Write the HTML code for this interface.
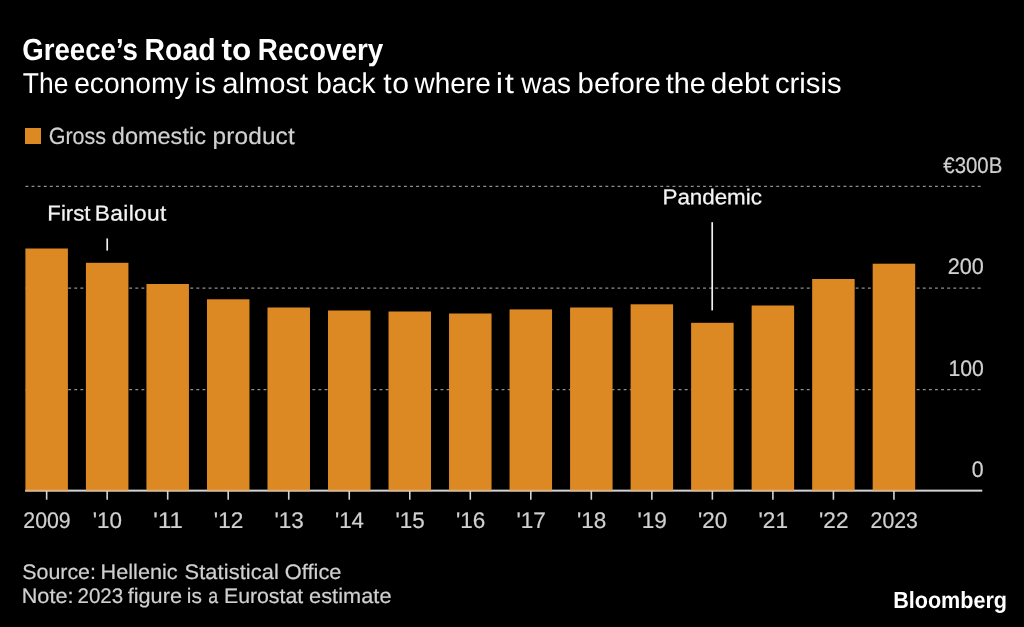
<!DOCTYPE html>
<html lang="en">
<head>
<meta charset="utf-8">
<title>Greece’s Road to Recovery</title>
<style>
html,body{margin:0;padding:0;background:#000;}
body{width:1024px;height:627px;overflow:hidden;position:relative;font-family:'Liberation Sans', sans-serif;}
svg{position:absolute;left:0;top:0;display:block;}
text{font-family:'Liberation Sans', sans-serif;text-rendering:geometricPrecision;}
.t{fill:#fff;font-weight:bold;}
.s{fill:#fff;}
.l{fill:#d0d0d0;stroke:#d0d0d0;stroke-width:0.2px;}
.a{fill:#f4f4f4;stroke:#f4f4f4;stroke-width:0.25px;}
.f{fill:#d0d0d0;stroke:#d0d0d0;stroke-width:0.2px;}
.b{fill:#fff;font-weight:bold;}
</style>
</head>
<body>
<svg width="1024" height="627" viewBox="0 0 1024 627">
<rect x="0" y="0" width="1024" height="627" fill="#000"/>
<text class="t" y="60" font-size="30.5"><tspan x="22.28" textLength="115.65" lengthAdjust="spacingAndGlyphs">Greece’s</tspan> <tspan x="144.60" textLength="70.86" lengthAdjust="spacingAndGlyphs">Road</tspan> <tspan x="221.42" letter-spacing="0.085" textLength="29.90" lengthAdjust="spacingAndGlyphs">to</tspan> <tspan x="257.84" textLength="125.41" lengthAdjust="spacingAndGlyphs">Recovery</tspan></text>
<text class="s" y="93" font-size="28.7"><tspan x="22.81" textLength="45.57" lengthAdjust="spacingAndGlyphs">The</tspan> <tspan x="74.20" textLength="114.35" lengthAdjust="spacingAndGlyphs">economy</tspan> <tspan x="194.52" letter-spacing="0.052" textLength="21.51" lengthAdjust="spacingAndGlyphs">is</tspan> <tspan x="222.26" textLength="85.95" lengthAdjust="spacingAndGlyphs">almost</tspan> <tspan x="316.19" textLength="59.27" lengthAdjust="spacingAndGlyphs">back</tspan> <tspan x="383.29" letter-spacing="0.567" textLength="26.37" lengthAdjust="spacingAndGlyphs">to</tspan> <tspan x="414.54" textLength="76.20" lengthAdjust="spacingAndGlyphs">where</tspan> <tspan x="495.80" letter-spacing="1.518" textLength="19.93" lengthAdjust="spacingAndGlyphs">it</tspan> <tspan x="521.29" textLength="49.72" lengthAdjust="spacingAndGlyphs">was</tspan> <tspan x="577.61" textLength="83.19" lengthAdjust="spacingAndGlyphs">before</tspan> <tspan x="665.81" textLength="39.96" lengthAdjust="spacingAndGlyphs">the</tspan> <tspan x="710.75" letter-spacing="0.119" textLength="58.34" lengthAdjust="spacingAndGlyphs">debt</tspan> <tspan x="775.01" textLength="66.55" lengthAdjust="spacingAndGlyphs">crisis</tspan></text>
<rect x="25" y="128" width="16" height="16" fill="#dc8924"/>
<text class="l" y="144" font-size="23.5"><tspan x="48.72" textLength="57.36" lengthAdjust="spacingAndGlyphs">Gross</tspan> <tspan x="111.81" textLength="94.11" lengthAdjust="spacingAndGlyphs">domestic</tspan> <tspan x="212.63" letter-spacing="0.115" textLength="82.17" lengthAdjust="spacingAndGlyphs">product</tspan></text>
<line x1="25.45" y1="186.3" x2="981.8" y2="186.3" stroke="#909090" stroke-width="1.25" stroke-dasharray="2.9 3.2044"/>
<line x1="25.45" y1="288.0" x2="981.8" y2="288.0" stroke="#909090" stroke-width="1.25" stroke-dasharray="2.9 3.2044"/>
<line x1="25.45" y1="389.7" x2="981.8" y2="389.7" stroke="#909090" stroke-width="1.25" stroke-dasharray="2.9 3.2044"/>
<line x1="25.2" y1="490.6" x2="982.2" y2="490.6" stroke="#d4d4d4" stroke-width="1.7"/>
<g fill="#dc8924">
<rect x="25.40" y="248.5" width="42.5" height="242.95"/>
<rect x="85.92" y="262.8" width="42.5" height="228.65"/>
<rect x="146.44" y="284.0" width="42.5" height="207.45"/>
<rect x="206.96" y="299.3" width="42.5" height="192.15"/>
<rect x="267.48" y="307.5" width="42.5" height="183.95"/>
<rect x="328.00" y="310.5" width="42.5" height="180.95"/>
<rect x="388.52" y="311.5" width="42.5" height="179.95"/>
<rect x="449.04" y="313.5" width="42.5" height="177.95"/>
<rect x="509.56" y="309.4" width="42.5" height="182.05"/>
<rect x="570.08" y="307.5" width="42.5" height="183.95"/>
<rect x="630.60" y="304.3" width="42.5" height="187.15"/>
<rect x="691.12" y="322.8" width="42.5" height="168.65"/>
<rect x="751.64" y="305.5" width="42.5" height="185.95"/>
<rect x="812.16" y="279.0" width="42.5" height="212.45"/>
<rect x="872.68" y="263.7" width="42.5" height="227.75"/>
</g>
<line x1="25.2" y1="490.6" x2="982.2" y2="490.6" stroke="#d4d4d4" stroke-width="1.7" stroke-opacity="0.6"/>
<g stroke="#d4d4d4" stroke-width="1.6">
<line x1="46.65" y1="491" x2="46.65" y2="499.7"/>
<line x1="107.17" y1="491" x2="107.17" y2="499.7"/>
<line x1="167.69" y1="491" x2="167.69" y2="499.7"/>
<line x1="228.21" y1="491" x2="228.21" y2="499.7"/>
<line x1="288.73" y1="491" x2="288.73" y2="499.7"/>
<line x1="349.25" y1="491" x2="349.25" y2="499.7"/>
<line x1="409.77" y1="491" x2="409.77" y2="499.7"/>
<line x1="470.29" y1="491" x2="470.29" y2="499.7"/>
<line x1="530.81" y1="491" x2="530.81" y2="499.7"/>
<line x1="591.33" y1="491" x2="591.33" y2="499.7"/>
<line x1="651.85" y1="491" x2="651.85" y2="499.7"/>
<line x1="712.37" y1="491" x2="712.37" y2="499.7"/>
<line x1="772.89" y1="491" x2="772.89" y2="499.7"/>
<line x1="833.41" y1="491" x2="833.41" y2="499.7"/>
<line x1="893.93" y1="491" x2="893.93" y2="499.7"/>
</g>
<text class="l" x="23.33" y="528" font-size="22.6" textLength="47.38" lengthAdjust="spacingAndGlyphs">2009</text>
<text class="l" x="92.83" y="528" font-size="22.6" textLength="29.21" lengthAdjust="spacingAndGlyphs">'10</text>
<text class="l" x="153.34" y="528" font-size="22.6" textLength="29.45" lengthAdjust="spacingAndGlyphs">'11</text>
<text class="l" x="213.86" y="528" font-size="22.6" textLength="29.49" lengthAdjust="spacingAndGlyphs">'12</text>
<text class="l" x="274.39" y="528" font-size="22.6" textLength="29.33" lengthAdjust="spacingAndGlyphs">'13</text>
<text class="l" x="334.92" y="528" font-size="22.6" textLength="28.98" lengthAdjust="spacingAndGlyphs">'14</text>
<text class="l" x="395.43" y="528" font-size="22.6" textLength="29.28" lengthAdjust="spacingAndGlyphs">'15</text>
<text class="l" x="455.95" y="528" font-size="22.6" textLength="29.33" lengthAdjust="spacingAndGlyphs">'16</text>
<text class="l" x="516.46" y="528" font-size="22.6" textLength="29.49" lengthAdjust="spacingAndGlyphs">'17</text>
<text class="l" x="576.99" y="528" font-size="22.6" textLength="29.32" lengthAdjust="spacingAndGlyphs">'18</text>
<text class="l" x="637.50" y="528" font-size="22.6" textLength="29.42" lengthAdjust="spacingAndGlyphs">'19</text>
<text class="l" x="698.03" y="528" font-size="22.6" textLength="29.21" lengthAdjust="spacingAndGlyphs">'20</text>
<text class="l" x="758.54" y="528" font-size="22.6" textLength="29.45" lengthAdjust="spacingAndGlyphs">'21</text>
<text class="l" x="819.06" y="528" font-size="22.6" textLength="29.49" lengthAdjust="spacingAndGlyphs">'22</text>
<text class="l" x="870.61" y="528" font-size="22.6" textLength="47.30" lengthAdjust="spacingAndGlyphs">2023</text>
<text class="l" x="943.34" y="173" font-size="22.4" textLength="58.93" lengthAdjust="spacingAndGlyphs">€300B</text>
<text class="l" x="947.71" y="274" font-size="22.4" textLength="36.14" lengthAdjust="spacingAndGlyphs">200</text>
<text class="l" x="948.38" y="376" font-size="22.4" textLength="35.45" lengthAdjust="spacingAndGlyphs">100</text>
<text class="l" x="971.87" y="477" font-size="22.4" textLength="11.87" lengthAdjust="spacingAndGlyphs">0</text>
<text class="a" y="220.5" font-size="21.5" transform="rotate(0.1 107.7 220.5)"><tspan x="47.39" textLength="42.98" lengthAdjust="spacingAndGlyphs">First</tspan> <tspan x="94.84" letter-spacing="0.327" textLength="71.88" lengthAdjust="spacingAndGlyphs">Bailout</tspan></text>
<line x1="107.2" y1="238.4" x2="107.2" y2="250.6" stroke="#f0f0f0" stroke-width="1.7"/>
<text class="a" x="662.47" y="204.3" font-size="21.5" textLength="99.42" lengthAdjust="spacingAndGlyphs" transform="rotate(0.1 712.8 204.3)">Pandemic</text>
<line x1="712.2" y1="222.2" x2="712.2" y2="310.4" stroke="#f0f0f0" stroke-width="1.7"/>
<text class="f" y="579" font-size="21"><tspan x="22.23" textLength="73.72" lengthAdjust="spacingAndGlyphs">Source:</tspan> <tspan x="100.52" letter-spacing="0.016" textLength="77.16" lengthAdjust="spacingAndGlyphs">Hellenic</tspan> <tspan x="184.51" letter-spacing="0.099" textLength="94.55" lengthAdjust="spacingAndGlyphs">Statistical</tspan> <tspan x="284.72" letter-spacing="0.026" textLength="56.77" lengthAdjust="spacingAndGlyphs">Office</tspan></text>
<text class="f" y="603" font-size="21"><tspan x="21.72" letter-spacing="0.007" textLength="51.76" lengthAdjust="spacingAndGlyphs">Note:</tspan> <tspan x="77.47" textLength="45.69" lengthAdjust="spacingAndGlyphs">2023</tspan> <tspan x="127.69" letter-spacing="0.017" textLength="54.29" lengthAdjust="spacingAndGlyphs">figure</tspan> <tspan x="186.81" textLength="15.05" lengthAdjust="spacingAndGlyphs">is</tspan> <tspan x="208.15" textLength="9.85" lengthAdjust="spacingAndGlyphs">a</tspan> <tspan x="223.96" textLength="79.20" lengthAdjust="spacingAndGlyphs">Eurostat</tspan> <tspan x="309.08" letter-spacing="0.048" textLength="82.44" lengthAdjust="spacingAndGlyphs">estimate</tspan></text>
<text class="b" x="893.16" y="608" font-size="23.4" textLength="113.89" lengthAdjust="spacingAndGlyphs">Bloomberg</text>
</svg>
</body>
</html>
